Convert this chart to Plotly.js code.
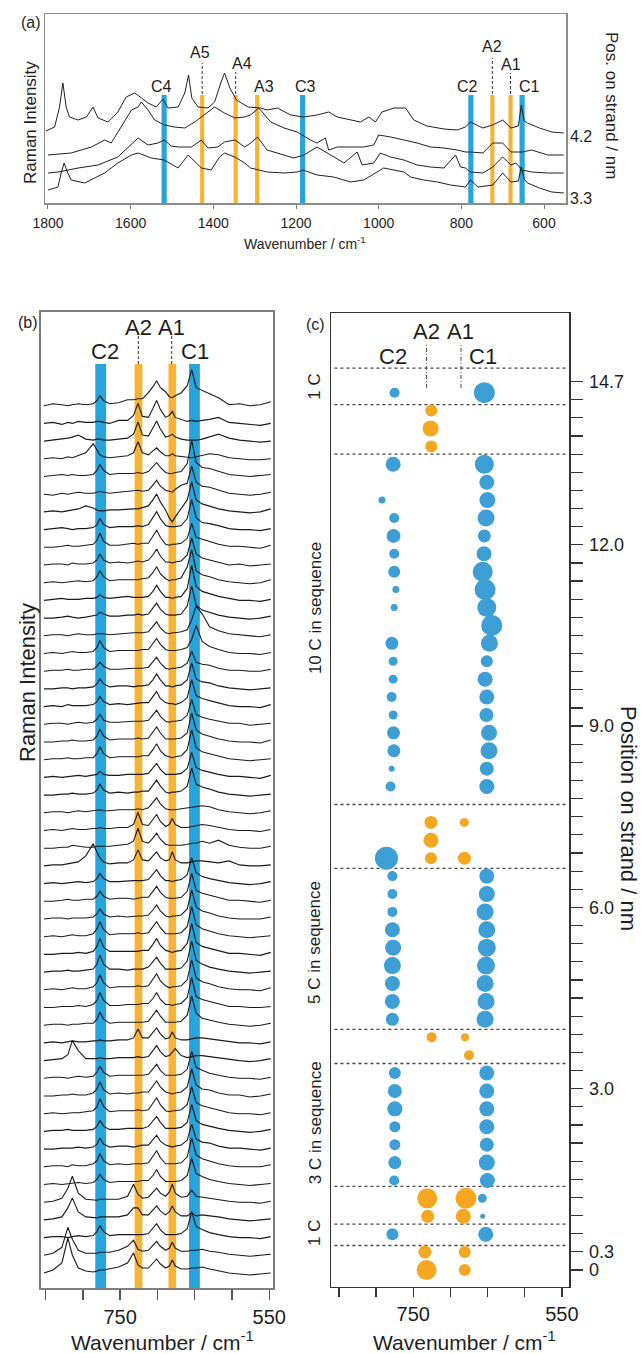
<!DOCTYPE html>
<html><head><meta charset="utf-8">
<script src="https://cdn.plot.ly/plotly-3.0.1.min.js"></script>
<style>html,body{margin:0;padding:0;background:#fff}#chart{width:642px;height:1354px}</style>
</head><body><div id="chart"></div>
<script>
// ================= DATA =================
// ---- Panel (a): four full-range spectra (wavenumber / read intensity, stacked as drawn) ----
const aWnTop = [1805,1784,1772,1764,1756,1748,1727,1707,1691,1679,1655,1631,1611,1590,1574,1558,1538,1522,1510,1485,1469,1460,1452,1437,1413,1397,1382,1373,1360,1344,1316,1286,1270,1245,1213,1182,1149,1121,1100,1068,1044,1024,1008,992,963,935,915,883,842,810,790,778,748,724,700,680,662,655,648,640,611,581,552];
const aIntTop = [72,76,96,120,96,86,83,86,96,85,81,91,106,110,105,100,96,104,95,96,110,128,105,96,95,101,120,130,115,103,96,95,93,95,88,86,88,91,86,83,81,86,81,91,95,95,83,77,74,73,76,81,75,78,83,75,77,98,82,80,75,71,70];
const aWn2 = [1800,1744,1695,1663,1647,1623,1598,1582,1574,1558,1542,1518,1494,1469,1445,1413,1397,1373,1348,1324,1310,1290,1261,1229,1197,1165,1149,1137,1129,1121,1100,1068,1036,1012,1000,971,939,907,875,842,810,790,778,748,724,700,680,653,630,591,552];
const aInt2 = [48,50,56,63,60,76,93,96,101,93,83,78,76,75,81,91,96,90,85,86,88,95,81,75,71,63,60,63,65,53,56,56,56,58,68,66,63,60,56,55,53,51,51,50,60,60,51,51,53,48,48];
const aWn3 = [1800,1776,1727,1679,1631,1606,1582,1558,1534,1519,1502,1485,1453,1429,1413,1389,1373,1348,1324,1310,1293,1270,1229,1205,1181,1149,1108,1084,1052,1040,1012,996,971,939,907,875,842,814,802,790,778,748,724,700,680,668,653,630,591,552];
const aInt3 = [30,31,35,38,46,56,65,58,60,63,57,56,56,63,55,56,61,63,56,60,66,53,48,45,48,56,46,40,51,38,40,50,46,43,38,36,35,48,36,35,31,30,36,46,38,40,33,31,30,30];
const aWnBot = [1800,1776,1768,1761,1752,1744,1711,1663,1631,1598,1582,1550,1519,1485,1461,1429,1405,1385,1373,1348,1324,1310,1270,1229,1197,1183,1149,1109,1068,1036,1004,988,963,939,923,891,858,826,790,778,760,724,700,680,662,655,648,640,611,581,552];
const aIntBot = [13,16,30,40,30,23,20,30,40,48,50,45,43,35,48,35,33,46,50,46,40,35,31,30,31,33,28,26,21,23,31,35,33,31,26,23,21,18,16,23,16,18,30,21,22,36,24,20,15,11,10];
const aSideLabels = ['4.2', '3.3'];

// band markers of panel (a)
const aBandLabel = ['C4','A5','A4','A3','C3','C2','A2','A1','C1'];
const aBandKind  = ['C','A','A','A','C','C','A','A','C'];
const aBandWn    = [1519, 1427, 1346, 1294, 1184, 777, 725, 681, 653];
const aLabelWn   = [1525, 1432, 1331, 1278, 1178, 784, 725, 681, 636];
const aLabelLvl  = [116, 150, 139, 116, 116, 116, 156, 138, 116];
const aDashTop   = [null, 140, 131, null, null, null, 145, 130, null];

// ---- Panel (b): 50 spectra, wavenumber grid and intensities (position index 0 = 0 nm ... 49 = 14.7 nm) ----
const wnB = [852,840,828,820,814,806,796,786,781,777,772,764,752,740,732,726,720,712,706,701,696,689,684,680,676,668,660,654,648,640,630,618,604,590,576,562,548];
const sp49 = [0,2,1,0,1,2,1, 2,5,10,5,2, 3,6,6,7,7, 13,19,25,18,14, 9,8,10,13,20, 36,18,15,12,8, 1,2,0,1,4];
const sp48 = [0,1,-1,1,0,2,1, 1,2,2,1,0, 3,3,8,20,7, 6,15,23,14,6, 8,12,6,4,2, 3,2,3,4,6, 1,0,-1,-2,0];
const sp47 = [0,1,2,3,4,6,2, 1,2,2,1,1, 2,3,7,19,6, 5,13,20,12,4, 5,7,4,2,1, 1,1,2,4,7, 3,1,0,-1,0];
const sp46 = [0,1,0,2,1,3,6, 15,9,4,2,1, 2,3,6,17,6, 4,8,11,7,3, 3,5,3,2,1, 1,2,3,5,4, 1,0,-1,-1,0];
const sp45 = [0,1,2,1,2,1,1, 2,6,12,6,2, 3,3,3,4,3, 5,10,14,9,4, 3,3,4,5,13, 36,14,9,8,5, 2,1,0,1,2];
const sp44 = [0,-1,1,0,1,2,1, 1,2,3,2,1, 2,3,3,4,3, 4,9,14,8,4, 3,2,5,9,11, 28,12,8,7,4, 1,0,-1,0,2];
const sp43 = [0,1,0,1,2,3,6, 4,2,1,1,2, 2,3,3,3,4, 6,12,18,10,2, -6,-10,-5,4,12, 30,12,8,6,3, 1,0,-1,0,3];
const sp42 = [0,1,2,1,0,1,1, 2,5,11,5,2, 3,3,3,4,3, 5,12,18,11,4, 3,3,3,4,11, 30,12,7,6,4, 1,0,0,-1,1];
const sp41 = [0,0,1,2,1,1,2, 3,7,14,6,2, 2,3,4,3,4, 4,11,17,10,3, 2,3,3,4,9, 24,10,8,6,3, 1,1,0,-1,2];
const sp40 = [0,1,1,0,2,1,1, 2,5,11,5,2, 3,2,3,4,3, 5,10,16,9,3, 3,2,3,4,10, 27,11,7,5,3, 0,1,-1,0,1];
const sp39 = [0,1,0,1,1,2,1, 2,6,12,6,2, 3,3,3,3,4, 5,10,16,9,4, 2,3,3,5,16, 33,12,8,6,3, 1,0,-1,0,3];
const sp38 = [0,1,2,1,1,1,2, 2,3,6,3,2, 3,4,3,3,3, 4,9,15,9,3, 3,2,3,4,12, 35,14,9,7,4, 2,0,0,-1,1];
const sp37 = [0,0,1,2,1,0,1, 2,3,6,4,2, 2,3,3,4,3, 4,10,15,9,4, 3,3,3,4,12, 32,13,8,6,3, 1,0,-1,0,2];
const sp36 = [0,1,1,0,1,2,1, 1,2,2,2,1, 2,3,3,3,3, 4,9,14,8,3, 2,3,3,4,6, 16,30,22,9,5, 2,1,0,-1,1];
const sp35 = [0,1,0,1,2,1,1, 2,6,13,6,2, 3,3,3,3,4, 4,10,15,9,4, 3,3,3,4,6, 14,28,12,7,4, 1,0,0,-1,1];
const sp34 = [0,1,1,2,1,1,2, 2,5,9,5,2, 2,3,3,3,3, 4,9,14,8,3, 2,3,3,4,8, 20,9,7,6,3, 1,1,0,0,2];
const sp33 = [0,0,1,1,0,1,1, 2,5,10,5,2, 3,3,2,3,3, 4,9,15,9,3, 3,2,3,4,9, 26,10,7,6,3, 1,0,-1,0,1];
const sp32 = [0,1,0,2,1,1,1, 2,5,10,5,2, 3,2,3,3,4, 4,10,15,8,4, 3,3,2,4,9, 27,11,8,6,4, 1,0,0,-1,2];
const sp31 = [0,1,1,0,1,2,1, 2,5,10,4,2, 2,3,3,3,3, 4,9,14,8,3, 2,3,3,4,9, 25,10,7,5,3, 1,1,-1,0,1];
const sp30 = [0,0,1,1,2,1,1, 2,6,13,6,2, 3,3,3,4,3, 4,10,15,9,3, 3,3,3,4,9, 29,12,8,6,3, 1,0,0,-1,2];
const sp29 = [0,1,1,2,1,1,2, 2,6,13,6,2, 3,3,3,3,4, 4,10,16,9,4, 3,2,3,4,10, 30,12,8,6,4, 1,0,-1,0,1];
const sp28 = [0,1,0,1,1,2,1, 2,3,6,3,2, 2,3,3,3,3, 4,9,14,8,3, 3,3,3,4,9, 25,10,7,5,3, 1,1,0,-1,2];
const sp27 = [0,0,1,1,2,1,1, 2,5,11,5,2, 3,2,3,3,4, 4,10,15,9,3, 2,3,3,4,9, 27,11,8,6,3, 1,0,-1,0,1];
const sp26 = [0,1,1,0,1,2,1, 2,3,3,2,2, 3,3,3,4,3, 5,10,15,9,4, 3,3,3,4,5, 6,6,7,6,3, 1,0,-1,0,2];
const sp25 = [0,1,0,1,2,1,1, 2,2,3,2,2, 3,3,6,18,6, 5,11,16,9,4, 6,12,6,3,3, 4,5,6,5,3, 1,0,0,-1,1];
const sp24 = [0,0,1,1,3,2,1, 1,2,2,2,2, 3,4,7,20,7, 5,10,15,9,4, 3,3,3,3,4, 5,5,7,5,8, 3,1,0,0,2];
const sp23 = [0,1,1,2,3,4,10, 22,14,8,4,2, 3,3,6,16,6, 5,10,14,8,5, 6,14,6,3,3, 4,5,5,4,3, 5,1,0,0,1];
const sp22 = [0,1,0,1,1,2,1, 2,5,10,5,2, 2,3,3,3,3, 4,9,14,8,3, 3,2,3,4,9, 26,11,7,5,3, 1,0,-1,0,2];
const sp21 = [0,0,1,2,1,1,2, 2,5,10,5,2, 3,3,2,3,4, 4,10,15,9,4, 3,3,3,4,10, 28,11,8,6,4, 1,1,0,-1,1];
const sp20 = [0,1,1,0,1,1,1, 2,5,10,5,2, 3,2,3,3,3, 4,9,14,8,3, 2,3,3,4,10, 29,12,8,6,3, 1,0,0,0,2];
const sp19 = [0,1,0,1,2,1,1, 3,8,15,7,2, 3,3,3,4,3, 4,10,15,9,3, 3,3,3,4,10, 30,12,8,6,3, 1,0,-1,0,1];
const sp18 = [0,0,1,1,1,2,1, 3,8,16,7,3, 3,3,3,3,4, 4,10,16,9,4, 3,2,3,4,11, 31,12,8,6,4, 1,1,0,-1,2];
const sp17 = [0,1,1,2,1,1,2, 3,8,17,8,3, 3,2,3,3,3, 5,10,15,9,3, 3,3,3,4,11, 31,12,8,5,3, 1,0,-1,0,1];
const sp16 = [0,1,0,1,2,1,1, 3,7,15,7,2, 3,3,3,4,3, 4,10,16,9,4, 2,3,3,4,10, 30,12,8,6,3, 1,0,0,-1,2];
const sp15 = [0,0,1,1,1,2,1, 3,7,15,7,2, 2,3,3,3,4, 4,9,15,8,3, 3,2,3,4,10, 30,11,8,6,4, 1,1,0,0,1];
const sp14 = [0,1,1,0,1,1,2, 2,6,13,6,2, 3,3,3,3,3, 4,10,15,9,3, 3,3,3,4,10, 29,12,7,5,3, 1,0,-1,0,2];
const sp13 = [0,1,0,1,2,1,1, 2,2,3,2,2, 3,3,5,14,5, 5,10,15,9,4, 5,11,5,3,3, 4,5,5,4,3, 1,0,0,-1,1];
const sp12 = [0,1,2,6,20,10,2, 2,2,3,2,2, 3,3,3,4,3, 4,10,15,9,4, 5,8,12,5,3, 4,5,5,4,3, 1,0,-1,0,2];
const sp11 = [0,1,1,0,1,2,1, 2,6,12,6,2, 3,3,3,3,3, 4,9,14,8,3, 3,3,3,4,9, 27,11,8,5,3, 1,0,0,-1,1];
const sp10 = [0,0,1,1,2,1,1, 3,7,14,6,2, 3,2,3,3,4, 4,10,15,9,4, 3,2,3,4,9, 27,11,7,6,3, 1,1,-1,0,2];
const sp09 = [0,1,0,1,1,1,2, 3,7,15,7,2, 3,3,3,4,3, 4,10,16,9,3, 2,3,3,4,9, 27,11,8,6,4, 1,0,0,-1,1];
const sp08 = [0,1,1,2,1,1,1, 2,5,11,5,2, 2,3,3,3,3, 5,10,15,9,3, 3,3,3,4,9, 27,11,7,5,3, 1,0,-1,0,2];
const sp07 = [0,0,1,1,1,2,1, 2,5,11,5,2, 3,3,2,3,4, 4,9,14,8,4, 3,2,3,4,9, 25,10,7,6,3, 1,1,0,-1,1];
const sp06 = [0,1,1,0,2,1,1, 3,6,13,6,2, 3,2,3,3,3, 4,10,16,9,3, 3,3,3,4,10, 29,12,8,6,3, 1,0,0,0,2];
const sp05 = [0,1,0,1,1,2,1, 2,5,10,5,2, 3,3,3,3,4, 4,9,15,8,3, 3,3,3,4,9, 26,11,8,5,3, 1,0,-1,0,1];
const sp04 = [0,1,4,14,26,9,3, 2,2,3,3,3, 3,6,18,8,4, 5,10,14,9,6, 10,18,9,5,6, 12,6,5,4,3, 1,0,0,-1,1];
const sp03 = [0,1,3,12,22,8,3, 2,2,3,3,3, 3,5,12,12,5, 5,10,14,9,5, 8,14,8,4,4, 7,4,5,4,3, 1,0,-1,0,1];
const sp02 = [0,1,1,0,1,2,1, 2,6,12,6,2, 3,3,3,3,3, 4,9,14,8,3, 3,3,3,4,9, 26,11,8,5,3, 1,0,0,-1,1];
const sp01 = [0,2,8,28,16,5,2, 2,2,3,3,3, 5,9,15,6,4, 5,10,14,9,5, 7,13,7,4,4, 5,5,6,4,3, 1,0,-1,0,1];
const sp00 = [0,3,10,35,18,5,2, 1,2,3,3,4, 6,10,20,8,5, 5,10,14,9,5, 7,13,7,4,4, 5,5,6,4,2, 0,-1,-2,-1,0];
const bSpectra = [sp00,sp01,sp02,sp03,sp04,sp05,sp06,sp07,sp08,sp09,sp10,sp11,sp12,sp13,sp14,sp15,sp16,sp17,sp18,sp19,
                  sp20,sp21,sp22,sp23,sp24,sp25,sp26,sp27,sp28,sp29,sp30,sp31,sp32,sp33,sp34,sp35,sp36,sp37,sp38,sp39,
                  sp40,sp41,sp42,sp43,sp44,sp45,sp46,sp47,sp48,sp49];
const bBandKind = ['C','A','A','C'];
const bBandWn   = [776, 725.3, 680, 650.3];
const bLabelText = ['C2','A2','A1','C1'];
const bLabelWn   = [770, 725.5, 680.8, 649.6];

// ---- Panel (c): peak positions (nm on strand), peak wavenumbers and dot sizes ----
const c2Pos  = [14.7,13.5,12.9,12.6,12.3,12.0,11.7,11.4,11.1,10.5,10.2,9.9,9.6,9.3,9.0,8.7,8.4,8.1,6.9,6.6,6.3,6.0,5.7,5.4,5.1,4.8,4.5,4.2,3.3,3.0,2.7,2.4,2.1,1.8,1.5,0.6];
const c2Wn   = [775,777,792,775.6,776.5,775.6,775.6,773.3,775.6,778.7,777,777,779,777,776.5,776,779,780.5,786,778,778,778,778,777,778,778,778,778,774.7,774.7,774.7,774.7,774.7,774.7,775.6,778];
const c2Size = [10,15,7,10,14,10,12,7,7,13,9,9,10,9,13,13,6,10,23,10,10,10,15,16,17,15,15,13,12,14,15,11,11,13,10,12];
const c1Pos  = [14.7,13.5,13.2,12.9,12.6,12.3,12.0,11.7,11.4,11.1,10.8,10.5,10.2,9.9,9.6,9.3,9.0,8.7,8.4,8.1,6.6,6.3,6.0,5.7,5.4,5.1,4.8,4.5,4.2,3.3,3.0,2.7,2.4,2.1,1.8,1.5,1.2,0.9,0.6];
const c1Wn   = [654.3,654.3,651,650.2,652,654.3,654.7,656.5,653.3,651,644.3,647.5,651,653.3,651,651.5,648,648,651,651,651,651,653.3,651,651,652,653.3,652,653.3,651,651,651,651,651,651,650.2,657,656.5,652.4];
const c1Size = [21,19,15,16,17,13,15,20,21,19,21,17,12,15,15,14,16,17,14,15,15,16,17,17,18,18,17,17,17,15,15,15,15,14,16,15,9,5,15];
const a2Pos  = [14.4,14.1,13.8,7.5,7.2,6.9,3.9,1.2,0.9,0.3,0];
const a2Wn   = [725.7,726.6,725.7,726.1,726.1,726.1,725.2,731.1,730.6,734.2,732];
const a2Size = [12,16,12,13,15,12,10,20,13,13,20];
const a1Pos  = [7.5,6.9,3.9,3.6,1.2,0.9,0.3,0];
const a1Wn   = [681.2,681.2,680.3,674.9,679,682.6,680.7,680.7];
const a1Size = [9,13,8,10,21,15,12,12];
const cSepPos = [15.11,14.5,13.67,7.80,6.73,4.03,3.46,1.40,0.77,0.41];
const cGroupText = ['1 C','10 C in sequence','5 C in sequence','3 C in sequence','1 C'];
const cGroupPos  = [14.8,11.09,5.48,2.46,0.62];
const cLabelText = ['C2','A2','A1','C1'];
const cLabelWn   = [777,732,687,655.6];
const cTickLabels = {'0':'0','0.3':'0.3','3':'3.0','6':'6.0','9':'9.0','12':'12.0','14.7':'14.7'};

// ================= STYLE / LAYOUT =================
const W = 642, H = 1354;
const PX = p => p / W, PY = p => 1 - p / H;
const FONT = 'Liberation Sans, Arial, Helvetica, sans-serif';
const BLUE_BAND = '#27A4DC', ORANGE_BAND = '#F8B234';
const BLUE_DOT = '#3E9ED6', ORANGE_DOT = '#F5A722';
const TXT = '#1e1e1e';

const traces = [];
function bands(wns, kinds, kind, width, height, color, xa, ya) {
  const xs = wns.filter((w, i) => kinds[i] === kind);
  traces.push({type:'bar', x: xs, y: xs.map(() => height), base: 0, width: xs.map(() => width),
    marker:{color, line:{width:0}}, xaxis:xa, yaxis:ya, hoverinfo:'skip'});
}
function dashLine(x0, x1, y0, y1, xa, ya, dash, color, width) {
  traces.push({type:'scatter', mode:'lines', x:[x0, x1], y:[y0, y1], xaxis:xa, yaxis:ya,
    line:{color, width, dash}, hoverinfo:'skip'});
}

// Panel (a)
const A_BAR_TOP = 108;
bands(aBandWn, aBandKind, 'C', 12.5, A_BAR_TOP, BLUE_BAND, 'x', 'y');
bands(aBandWn, aBandKind, 'A', 10, A_BAR_TOP, ORANGE_BAND, 'x', 'y');
[[aWnTop, aIntTop], [aWn2, aInt2], [aWn3, aInt3], [aWnBot, aIntBot]].forEach(([xs, ys]) => {
  traces.push({type:'scatter', mode:'lines', x: xs, y: ys, xaxis:'x', yaxis:'y',
    line:{color:'#202020', width:1}, hoverinfo:'skip'});
});
aBandWn.forEach((w, i) => { if (aDashTop[i] !== null) dashLine(w, w, A_BAR_TOP + 1, aDashTop[i], 'x', 'y', '3px,2px', '#333', 1); });

// Panel (b)
const B_BAR_TOP = 924, B_BASE = 15, B_STEP = 17.7;
bands(bBandWn, bBandKind, 'C', 14.5, B_BAR_TOP, BLUE_BAND, 'x2', 'y2');
bands(bBandWn, bBandKind, 'A', 10.3, B_BAR_TOP, ORANGE_BAND, 'x2', 'y2');
bSpectra.forEach((vals, n) => {
  traces.push({type:'scatter', mode:'lines', x: wnB, y: vals.map(v => B_BASE + n * B_STEP + v),
    xaxis:'x2', yaxis:'y2', line:{color:'#1a1a1a', width:1.1}, hoverinfo:'skip'});
});
[1, 2].forEach(i => dashLine(bLabelWn[i], bLabelWn[i], B_BAR_TOP, 953, 'x2', 'y2', '3px,2px', '#333', 1));

// Panel (c)
cSepPos.forEach(p => dashLine(856, 545, p, p, 'x3', 'y3', '3px,3px', '#444', 1.3));
dashLine(732, 732, 14.78, 15.5, 'x3', 'y3', '4px,2px,1px,2px', '#444', 1);
dashLine(685.7, 685.7, 14.78, 15.5, 'x3', 'y3', '4px,2px,1px,2px', '#444', 1);
[[c2Wn, c2Pos, c2Size, BLUE_DOT], [c1Wn, c1Pos, c1Size, BLUE_DOT],
 [a2Wn, a2Pos, a2Size, ORANGE_DOT], [a1Wn, a1Pos, a1Size, ORANGE_DOT]].forEach(([xs, ys, ss, col]) => {
  traces.push({type:'scatter', mode:'markers', x: xs, y: ys, xaxis:'x3', yaxis:'y3',
    marker:{size: ss, color: col, opacity: 1, line:{width:0}}, hoverinfo:'skip'});
});
traces.push({type:'scatter', mode:'markers', x:[700], y:[-5], xaxis:'x3', yaxis:'y4',
  marker:{opacity:0}, hoverinfo:'skip'});

// ticks for right axis of (c)
const cTickVals = [], cTickText = [];
for (let i = 0; i <= 49; i++) {
  const v = Math.round(i * 3) / 10;
  cTickVals.push(v);
  cTickText.push(cTickLabels[String(v)] || '');
}

const ann = [];
function A(text, x, y, size, extra) {
  ann.push(Object.assign({text, x: PX(x), y: PY(y), xref:'paper', yref:'paper', showarrow:false,
    xanchor:'center', yanchor:'middle', font:{family:FONT, size, color:TXT}}, extra || {}));
}
function AD(text, x, y, xref, yref, size, extra) {
  ann.push(Object.assign({text, x, y, xref, yref, showarrow:false, xanchor:'center', yanchor:'middle',
    font:{family:FONT, size, color:TXT}}, extra || {}));
}
// (a)
A('(a)', 31, 22, 16);
A('Raman Intensity', 30, 123, 17, {textangle:-90});
A('Wavenumber / cm<sup>-1</sup>', 305, 243, 14);
A(aSideLabels[0], 581, 136, 16);
A(aSideLabels[1], 581, 199, 16);
A('Pos. on strand / nm', 611, 105, 17, {textangle:90});
aBandLabel.forEach((t, i) => AD(t, aLabelWn[i], aLabelLvl[i], 'x', 'y', 16));
// (b)
A('(b)', 28, 322.5, 16);
A('Raman Intensity', 27, 683, 22, {textangle:-90});
A('Wavenumber / cm<sup>-1</sup>', 163, 1341, 21);
bLabelText.forEach((t, i) => AD(t, bLabelWn[i], (i === 0 || i === 3) ? 937 : 961, 'x2', 'y2', 22));
// (c)
A('(c)', 315, 324.5, 16);
A('Position on strand / nm', 628, 818, 22, {textangle:90});
A('Wavenumber / cm<sup>-1</sup>', 464, 1341, 21);
cLabelText.forEach((t, i) => AD(t, cLabelWn[i], (i === 0 || i === 3) ? 15.30 : 15.72, 'x3', 'y3', 22));
cGroupText.forEach((t, i) => ann.push({text:t, x: PX(315), y: cGroupPos[i], xref:'paper', yref:'y3',
  showarrow:false, textangle:-90, xanchor:'center', yanchor:'middle', font:{family:FONT, size:17, color:TXT}}));

const noGrid = {showgrid:false, zeroline:false};
const layout = {
  width: W, height: H, margin:{l:0, r:0, t:0, b:0}, showlegend:false,
  paper_bgcolor:'#ffffff', plot_bgcolor:'rgba(0,0,0,0)', barmode:'overlay',
  font:{family:FONT, color:TXT},
  xaxis: Object.assign({domain:[PX(45.3), PX(566)], range:[1806.5, 546.8], anchor:'y',
    showline:true, mirror:true, linecolor:'#8c8c8c', linewidth:1.5,
    ticks:'outside', ticklen:4, tickwidth:1, tickcolor:'#777',
    tickvals:[1800,1600,1400,1200,1000,800,600], tickfont:{size:14, family:FONT, color:TXT}, ticklabelstandoff:3}, noGrid),
  yaxis: Object.assign({domain:[PY(203), PY(14)], range:[0, 189], anchor:'x',
    showline:true, mirror:true, linecolor:'#8c8c8c', linewidth:1.5, showticklabels:false, ticks:''}, noGrid),
  xaxis2: Object.assign({domain:[PX(41), PX(273)], range:[856, 545], anchor:'y2',
    showline:true, mirror:true, linecolor:'#7d7d7d', linewidth:2,
    ticks:'outside', ticklen:10, tickwidth:1.5, tickcolor:'#555',
    tickvals:[850,800,750,700,650,600,550], ticktext:['','','750','','','','550'],
    tickfont:{size:20, family:FONT, color:TXT}, ticklabelstandoff:0}, noGrid),
  yaxis2: Object.assign({domain:[PY(1288), PY(312)], range:[0, 976], anchor:'x2',
    showline:true, mirror:true, linecolor:'#7d7d7d', linewidth:2, showticklabels:false, ticks:''}, noGrid),
  xaxis3: Object.assign({domain:[PX(330.7), PX(569.3)], range:[861, 540], anchor:'y3',
    showline:true, mirror:true, linecolor:'#333', linewidth:1.2,
    ticks:'outside', ticklen:9, tickwidth:1.3, tickcolor:'#333',
    tickvals:[850,800,750,700,650,600,550], ticktext:['','','750','','','','550'],
    tickfont:{size:20, family:FONT, color:TXT}, ticklabelstandoff:0}, noGrid),
  yaxis3: Object.assign({domain:[PY(1287), PY(312.7)], range:[-0.285, 16.04], anchor:'x3',
    showline:true, mirror:true, linecolor:'#333', linewidth:1.2, showticklabels:false, ticks:''}, noGrid),
  yaxis4: Object.assign({overlaying:'y3', anchor:'x3', side:'right', range:[-0.281, 15.84],
    showline:false, ticks:'outside', ticklen:13, tickwidth:1.2, tickcolor:'#333',
    tickvals:cTickVals, ticktext:cTickText, tickfont:{size:18, family:FONT, color:TXT}, ticklabelstandoff:2}, noGrid),
  annotations: ann
};
Plotly.newPlot('chart', traces, layout, {staticPlot:true, displayModeBar:false});
</script>
</body></html>
